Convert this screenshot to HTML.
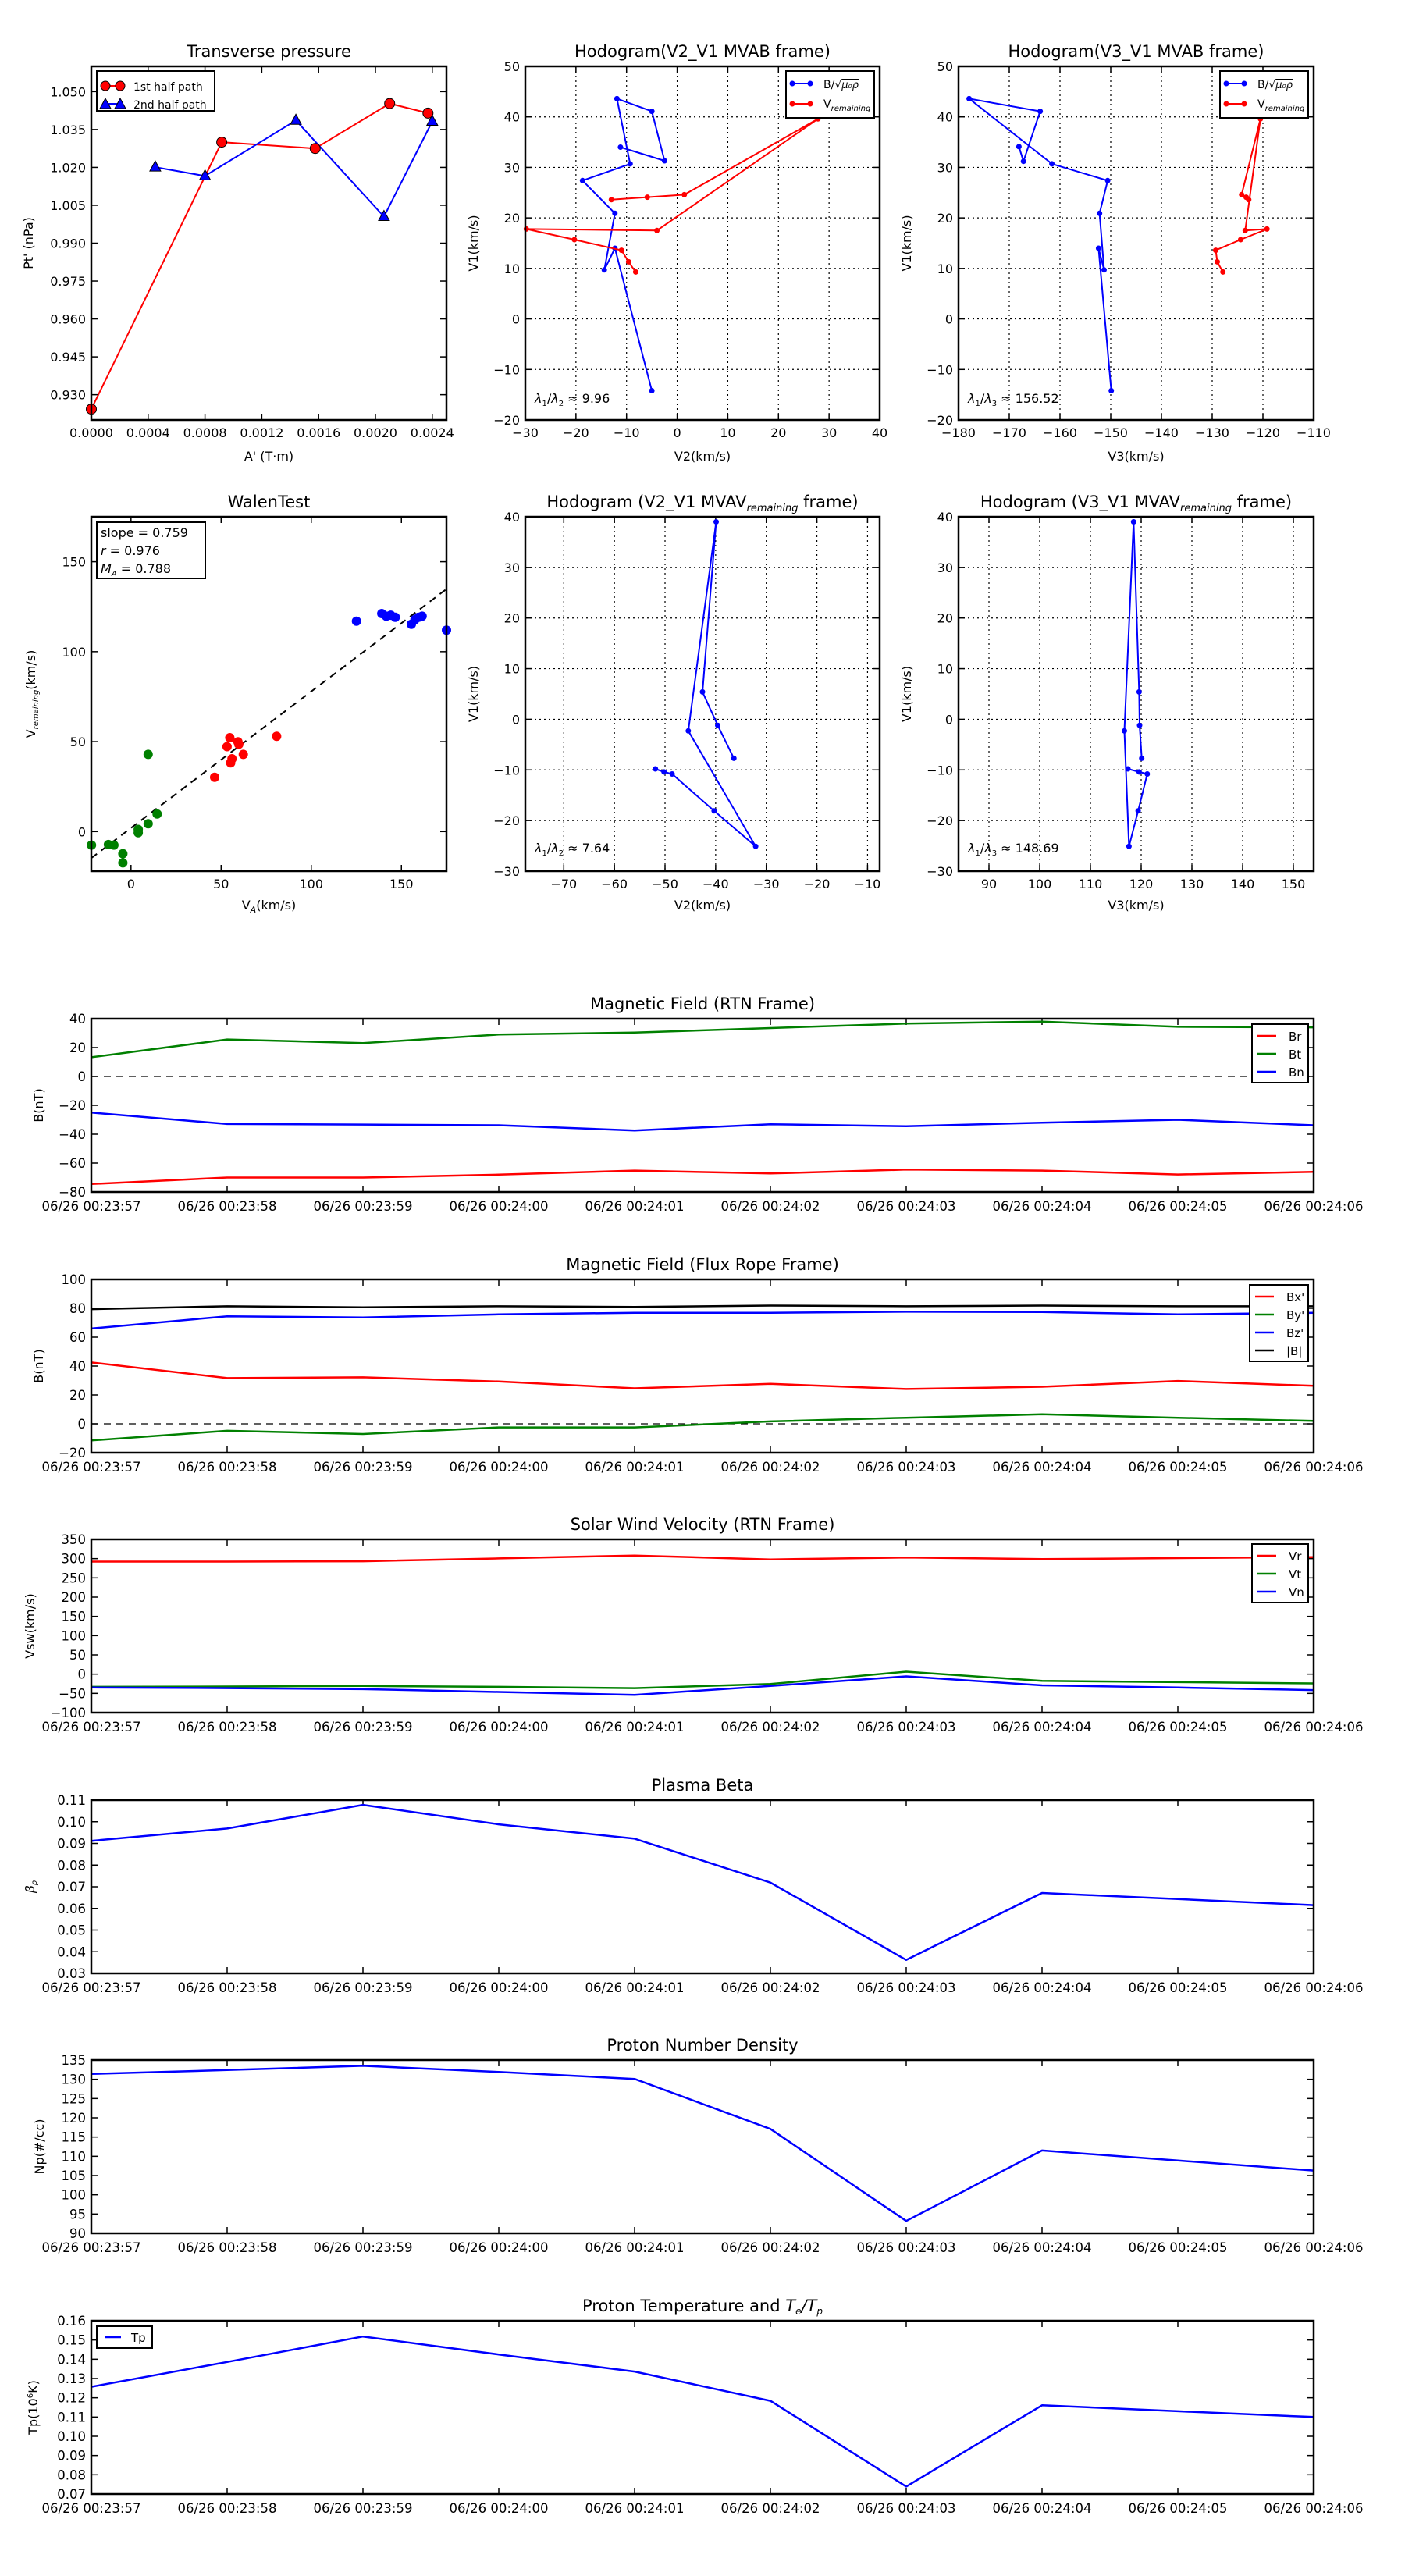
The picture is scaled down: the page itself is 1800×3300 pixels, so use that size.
<!DOCTYPE html>
<html><head><meta charset="utf-8">
<style>
html,body{margin:0;padding:0;background:#fff;}
svg{display:block;font-family:"DejaVu Sans","Liberation Sans",sans-serif;}
</style></head>
<body>
<svg id="s" width="1800" height="3300" viewBox="0 0 1800 3300" xmlns="http://www.w3.org/2000/svg"></svg>
<script>
const S=[];
function L(x1,y1,x2,y2,st){S.push(`<line x1="${x1}" y1="${y1}" x2="${x2}" y2="${y2}" ${st||'stroke="#000" stroke-width="1.5"'}/>`);}
function T(x,y,t,a){S.push(`<text x="${x}" y="${y}" ${a||''}>${t}</text>`);}
function PL(pts,col,w,extra){S.push(`<polyline points="${pts.map(p=>p[0].toFixed(1)+','+p[1].toFixed(1)).join(' ')}" fill="none" stroke="${col}" stroke-width="${w}" stroke-linejoin="round" ${extra||''}/>`);}
function C(x,y,r,col,stroke){S.push(`<circle cx="${x.toFixed(1)}" cy="${y.toFixed(1)}" r="${r}" fill="${col}" ${stroke?'stroke="#000" stroke-width="1"':''}/>`);}
function range(a,b,s){const r=[];for(let v=a;v<=b+s*1e-6;v+=s)r.push(+v.toFixed(6));return r;}

function panel(p){
  const {x0,y0,x1,y1,xr,yr}=p;
  const X=v=>x0+(v-xr[0])/(xr[1]-xr[0])*(x1-x0);
  const Y=v=>y1-(v-yr[0])/(yr[1]-yr[0])*(y1-y0);
  const fs=p.fs||16;
  if(p.grid){
    p.xt.forEach(v=>{const px=X(v);if(px>x0+2&&px<x1-2)L(px,y0,px,y1,'stroke="#000" stroke-width="1.2" stroke-dasharray="2,4"');});
    p.yt.forEach(v=>{const py=Y(v);if(py>y0+2&&py<y1-2)L(x0,py,x1,py,'stroke="#000" stroke-width="1.2" stroke-dasharray="2,4"');});
  }
  p.xt.forEach((v,i)=>{const px=X(v);L(px,y1,px,y1-8);L(px,y0,px,y0+8);
    T(px,y1+(p.xlo||22),p.xf?p.xf(v,i):v,`font-size="${fs}" text-anchor="middle"`);});
  p.yt.forEach(v=>{const py=Y(v);L(x0,py,x0+8,py);L(x1,py,x1-8,py);
    T(x0-7,py+6,p.yf?p.yf(v):String(v).replace('-','−'),`font-size="${fs}" text-anchor="end"`);});
  if(p.title)T((x0+x1)/2,y0-12,p.title,`font-size="21" text-anchor="middle"`);
  if(p.xl)T((x0+x1)/2,p.xly,p.xl,`font-size="16" text-anchor="middle"`);
  if(p.yl)T(0,0,p.yl,`font-size="16" text-anchor="middle" transform="translate(${p.ylx},${(y0+y1)/2}) rotate(-90)"`);
  return {X,Y,frame:()=>S.push(`<rect x="${x0}" y="${y0}" width="${x1-x0}" height="${y1-y0}" fill="none" stroke="#000" stroke-width="2.5"/>`)};
}
const neg=v=>String(v).replace('-','−');

// ===== Row 1 =====
const R1={y0:85,y1:538};
// Transverse pressure
let P=panel({x0:117,x1:572,...R1,xr:[0,0.0025],yr:[0.92,1.06],xt:range(0,0.0024,0.0004),yt:range(0.93,1.05,0.015),
  xf:v=>v.toFixed(4),yf:v=>v.toFixed(3),title:'Transverse pressure',xl:"A' (T·m)",xly:590,yl:"Pt' (nPa)",ylx:42});
let red=[[0,0.9243],[0.000918,1.030],[0.001576,1.0275],[0.0021,1.0453],[0.00237,1.0415]];
let blue=[[0.00045,1.0201],[0.0008,1.0166],[0.00144,1.0386],[0.00206,1.0005],[0.0024,1.0382]];
PL(red.map(a=>[P.X(a[0]),P.Y(a[1])]),'#f00',2);
PL(blue.map(a=>[P.X(a[0]),P.Y(a[1])]),'#00f',2);
red.forEach(a=>C(P.X(a[0]),P.Y(a[1]),6.5,'#f00',1));
function tri(x,y,c){S.push(`<polygon points="${x},${y-8} ${x-7},${y+5} ${x+7},${y+5}" fill="${c}" stroke="#000" stroke-width="1"/>`);}
blue.forEach(a=>tri(P.X(a[0]),P.Y(a[1]),'#00f'));
S.push(`<rect x="124" y="91" width="151" height="51" fill="#fff" stroke="#000" stroke-width="2"/>`);
L(135,110,154,110,'stroke="#f00" stroke-width="2"');C(135,110,6,'#f00',1);C(154,110,6,'#f00',1);
T(171,116,'1st half path','font-size="14"');
L(135,133,154,133,'stroke="#00f" stroke-width="2"');tri(135,134,'#00f');tri(154,134,'#00f');
T(171,139,'2nd half path','font-size="14"');
P.frame();

function hodoLegend(x0){
  S.push(`<rect x="${x0}" y="91" width="113" height="60" fill="#fff" stroke="#000" stroke-width="2"/>`);
  L(x0+8,107,x0+31,107,'stroke="#00f" stroke-width="2"');C(x0+8,107,3.5,'#00f');C(x0+31,107,3.5,'#00f');
  T(x0+48,113,'B/√<tspan text-decoration="overline" font-style="italic" font-size="13">μ₀ρ</tspan>','font-size="14"');
  L(x0+8,133,x0+31,133,'stroke="#f00" stroke-width="2"');C(x0+8,133,3.5,'#f00');C(x0+31,133,3.5,'#f00');
  T(x0+48,138,'V<tspan font-size="10" dy="4" font-style="italic">remaining</tspan>','font-size="14"');
}
function series(P,pts,col,r){const q=pts.map(a=>[P.X(a[0]),P.Y(a[1])]);PL(q,col,2);q.forEach(a=>C(a[0],a[1],r||3.5,col));}

// Hodogram V2 MVAB
P=panel({x0:673,x1:1127,...R1,xr:[-30,40],yr:[-20,50],xt:range(-30,40,10),yt:range(-20,50,10),grid:1,
  xf:neg,title:'Hodogram(V2_V1 MVAB frame)',xl:'V2(km/s)',xly:590,yl:'V1(km/s)',ylx:612});
series(P,[[-5,-14.2],[-12.3,14],[-14.4,9.7],[-12.3,20.9],[-18.7,27.4],[-9.3,30.7],[-11.9,43.6],[-5,41.1],[-2.5,31.3],[-11.2,34]],'#00f');
series(P,[[-8.2,9.3],[-9.6,11.3],[-11,13.6],[-20.3,15.7],[-29.8,17.8],[-4,17.5],[27.8,39.6],[1.4,24.6],[-5.9,24.1],[-13,23.6]],'#f00');
T(685,516,'<tspan font-style="italic">λ</tspan><tspan font-size="10" dy="4">1</tspan><tspan dy="-4">/</tspan><tspan font-style="italic">λ</tspan><tspan font-size="10" dy="4">2</tspan><tspan dy="-4"> ≈ 9.96</tspan>','font-size="16"');
hodoLegend(1007);
P.frame();

// Hodogram V3 MVAB
P=panel({x0:1228,x1:1683,...R1,xr:[-180,-110],yr:[-20,50],xt:range(-180,-110,10),yt:range(-20,50,10),grid:1,
  xf:neg,title:'Hodogram(V3_V1 MVAB frame)',xl:'V3(km/s)',xly:590,yl:'V1(km/s)',ylx:1167});
series(P,[[-149.9,-14.2],[-152.4,14],[-151.3,9.7],[-152.2,20.9],[-150.6,27.4],[-161.6,30.7],[-177.9,43.6],[-163.9,41.1],[-167.2,31.2],[-168.1,34.1]],'#00f');
series(P,[[-127.9,9.3],[-129,11.3],[-129.3,13.6],[-124.4,15.7],[-119.2,17.8],[-123.5,17.5],[-120.5,39.6],[-124.2,24.6],[-123.3,24.1],[-122.8,23.6]],'#f00');
T(1240,516,'<tspan font-style="italic">λ</tspan><tspan font-size="10" dy="4">1</tspan><tspan dy="-4">/</tspan><tspan font-style="italic">λ</tspan><tspan font-size="10" dy="4">3</tspan><tspan dy="-4"> ≈ 156.52</tspan>','font-size="16"');
hodoLegend(1563);
P.frame();

// ===== Row 2 =====
const R2={y0:662,y1:1116};
P=panel({x0:117,x1:572,...R2,xr:[-22,175],yr:[-22,175],xt:[0,50,100,150],yt:[0,50,100,150],
  title:'WalenTest',xl:'V<tspan font-size="11" dy="4" font-style="italic">A</tspan><tspan dy="-4">(km/s)</tspan>',xly:1165,
  yl:'V<tspan font-size="10" dy="4" font-style="italic">remaining</tspan><tspan dy="-4">(km/s)</tspan>',ylx:45});
PL([[P.X(-22),P.Y(-22*0.759+2)],[P.X(175),P.Y(175*0.759+2)]],'#000',2,'stroke-dasharray="9,7"');
[[-21.9,-7.5],[-12.5,-7.2],[-9.5,-7.5],[-4.5,-12.3],[-4.5,-17.4],[4,-0.6],[4,1.2],[9.5,4.4],[14.5,9.8],[9.5,42.9]].forEach(a=>C(P.X(a[0]),P.Y(a[1]),6,'#008000'));
[[46.4,30.2],[55.3,38.2],[56,40.5],[53.3,47.2],[54.8,52.2],[59.3,49.9],[59.8,48.5],[62.3,42.9],[80.8,53]].forEach(a=>C(P.X(a[0]),P.Y(a[1]),6,'#f00'));
[[125.1,117],[139.1,121.2],[141.6,119.7],[144.1,120.3],[146.6,119.1],[155.5,115.2],[157.5,117.8],[159.5,119.1],[161.5,119.7],[175,112]].forEach(a=>C(P.X(a[0]),P.Y(a[1]),6,'#00f'));
S.push(`<rect x="124" y="669" width="139" height="72" fill="#fff" stroke="#000" stroke-width="2"/>`);
T(129,688,'slope = 0.759','font-size="16"');
T(129,711,'<tspan font-style="italic">r</tspan> = 0.976','font-size="16"');
T(129,734,'<tspan font-style="italic">M</tspan><tspan font-size="10" dy="4" font-style="italic">A</tspan><tspan dy="-4"> = 0.788</tspan>','font-size="16"');
P.frame();

P=panel({x0:673,x1:1127,...R2,xr:[-77.6,-7.6],yr:[-30,40],xt:range(-70,-10,10),yt:range(-30,40,10),grid:1,xf:neg,
  title:'Hodogram (V2_V1 MVAV<tspan font-size="13" dy="5" font-style="italic">remaining</tspan><tspan dy="-5"> frame)</tspan>',xl:'V2(km/s)',xly:1165,yl:'V1(km/s)',ylx:612});
series(P,[[-36.4,-7.7],[-39.6,-1.2],[-42.6,5.4],[-39.9,39],[-45.4,-2.3],[-32.1,-25.1],[-40.3,-18.1],[-48.6,-10.8],[-50.2,-10.4],[-51.9,-9.8]],'#00f');
T(685,1092,'<tspan font-style="italic">λ</tspan><tspan font-size="10" dy="4">1</tspan><tspan dy="-4">/</tspan><tspan font-style="italic">λ</tspan><tspan font-size="10" dy="4">2</tspan><tspan dy="-4"> ≈ 7.64</tspan>','font-size="16"');
P.frame();

P=panel({x0:1228,x1:1683,...R2,xr:[84,154],yr:[-30,40],xt:range(90,150,10),yt:range(-30,40,10),grid:1,
  title:'Hodogram (V3_V1 MVAV<tspan font-size="13" dy="5" font-style="italic">remaining</tspan><tspan dy="-5"> frame)</tspan>',xl:'V3(km/s)',xly:1165,yl:'V1(km/s)',ylx:1167});
series(P,[[120.1,-7.7],[119.7,-1.2],[119.6,5.4],[118.5,39],[116.7,-2.3],[117.6,-25.1],[119.4,-18.1],[121.2,-10.8],[119.6,-10.4],[117.4,-9.8]],'#00f');
T(1240,1092,'<tspan font-style="italic">λ</tspan><tspan font-size="10" dy="4">1</tspan><tspan dy="-4">/</tspan><tspan font-style="italic">λ</tspan><tspan font-size="10" dy="4">3</tspan><tspan dy="-4"> ≈ 148.69</tspan>','font-size="16"');
P.frame();

// ===== Time series =====
const times=['06/26 00:23:57','06/26 00:23:58','06/26 00:23:59','06/26 00:24:00','06/26 00:24:01','06/26 00:24:02','06/26 00:24:03','06/26 00:24:04','06/26 00:24:05','06/26 00:24:06'];
function ts(y0,yr,yt,yf,title,yl,ylx){
  return panel({x0:117,x1:1683,y0:y0,y1:y0+222,xr:[0,9],yr:yr,xt:range(0,9,1),yt:yt,xf:(v,i)=>times[i],yf:yf,title:title,yl:yl,ylx:ylx,fs:16.5,xlo:24});
}
function line(P,vals,col){PL(vals.map((v,i)=>[P.X(i),P.Y(v)]),col,2.5);}
function zero(P){L(117,P.Y(0),1683,P.Y(0),'stroke="#000" stroke-width="1.3" stroke-dasharray="9,7"');}
function tsLegend(x,y,w,items){
  S.push(`<rect x="${x}" y="${y}" width="${w}" height="${items.length*23+6}" fill="#fff" stroke="#000" stroke-width="2"/>`);
  items.forEach((it,i)=>{const yy=y+15+i*23;L(x+7,yy,x+31,yy,`stroke="${it[1]}" stroke-width="2.5"`);T(x+47,yy+6,it[0],'font-size="15"');});
}

P=ts(1305,[-80,40],range(-80,40,20),neg,'Magnetic Field (RTN Frame)','B(nT)',55);
zero(P);
line(P,[-74.5,-70,-70,-68,-65.2,-67.2,-64.5,-65.2,-67.9,-66.1],'#f00');
line(P,[13.3,25.6,23.1,29,30.4,33.5,36.6,38,34.4,34],'#008000');
line(P,[-25,-32.9,-33.3,-33.8,-37.4,-33.1,-34.5,-32,-30,-33.8],'#00f');
tsLegend(1604,1312,72,[['Br','#f00'],['Bt','#008000'],['Bn','#00f']]);
P.frame();

P=ts(1639,[-20,100],range(-20,100,20),neg,'Magnetic Field (Flux Rope Frame)','B(nT)',55);
zero(P);
line(P,[79.4,81.4,80.7,81.4,81,81.9,81.4,81.9,81.4,81.4],'#000');
line(P,[66,74.5,73.6,75.8,76.9,76.9,77.6,77.4,75.8,76.9],'#00f');
line(P,[42.5,31.7,32.2,29.3,24.6,27.7,24.1,25.7,29.7,26.3],'#f00');
line(P,[-11.5,-4.8,-7,-2.5,-2.5,1.7,4.2,6.6,4.2,2],'#008000');
tsLegend(1601,1646,75,[["Bx'",'#f00'],["By'",'#008000'],["Bz'",'#00f'],['|B|','#000']]);
P.frame();

P=ts(1972,[-100,350],range(-100,350,50),neg,'Solar Wind Velocity (RTN Frame)','Vsw(km/s)',44);
line(P,[292.2,292.2,293,300.5,308,298,303,298.8,301.3,303.8],'#f00');
line(P,[-33,-32,-30.6,-33,-36.4,-25.7,6.5,-17.4,-20.7,-24],'#008000');
line(P,[-34.8,-36.4,-38.9,-46.3,-53.8,-30.6,-5.8,-29,-34.8,-41.4],'#00f');
tsLegend(1604,1978,72,[['Vr','#f00'],['Vt','#008000'],['Vn','#00f']]);
P.frame();

P=ts(2306,[0.03,0.11],range(0.03,0.11,0.01),v=>v.toFixed(2),'Plasma Beta','<tspan font-style="italic">β</tspan><tspan font-size="10" dy="3" font-style="italic">p</tspan>',44);
line(P,[0.0912,0.0969,0.1078,0.0988,0.0922,0.0719,0.0362,0.0671,0.0643,0.0615],'#00f');
P.frame();

P=ts(2639,[90,135],range(90,135,5),null,'Proton Number Density','Np(#/cc)',56);
line(P,[131.4,132.4,133.5,131.9,130.1,117.1,93.2,111.5,108.9,106.3],'#00f');
P.frame();

P=ts(2973,[0.07,0.16],range(0.07,0.16,0.01),v=>v.toFixed(2),'Proton Temperature and <tspan font-style="italic">T</tspan><tspan font-size="12" dy="4" font-style="italic">e</tspan><tspan dy="-4" font-style="italic">/T</tspan><tspan font-size="12" dy="4" font-style="italic">p</tspan>','Tp(10<tspan font-size="10" dy="-6">6</tspan><tspan dy="6">K)</tspan>',48);
line(P,[0.1257,0.1386,0.1518,0.1425,0.1336,0.1184,0.0739,0.1161,0.113,0.11],'#00f');
S.push(`<rect x="124" y="2980" width="71" height="28" fill="#fff" stroke="#000" stroke-width="2"/>`);
L(134,2994,155,2994,'stroke="#00f" stroke-width="2.5"');T(168,3000,'Tp','font-size="15"');
P.frame();

document.getElementById('s').innerHTML=S.join('');
</script>
</body></html>
